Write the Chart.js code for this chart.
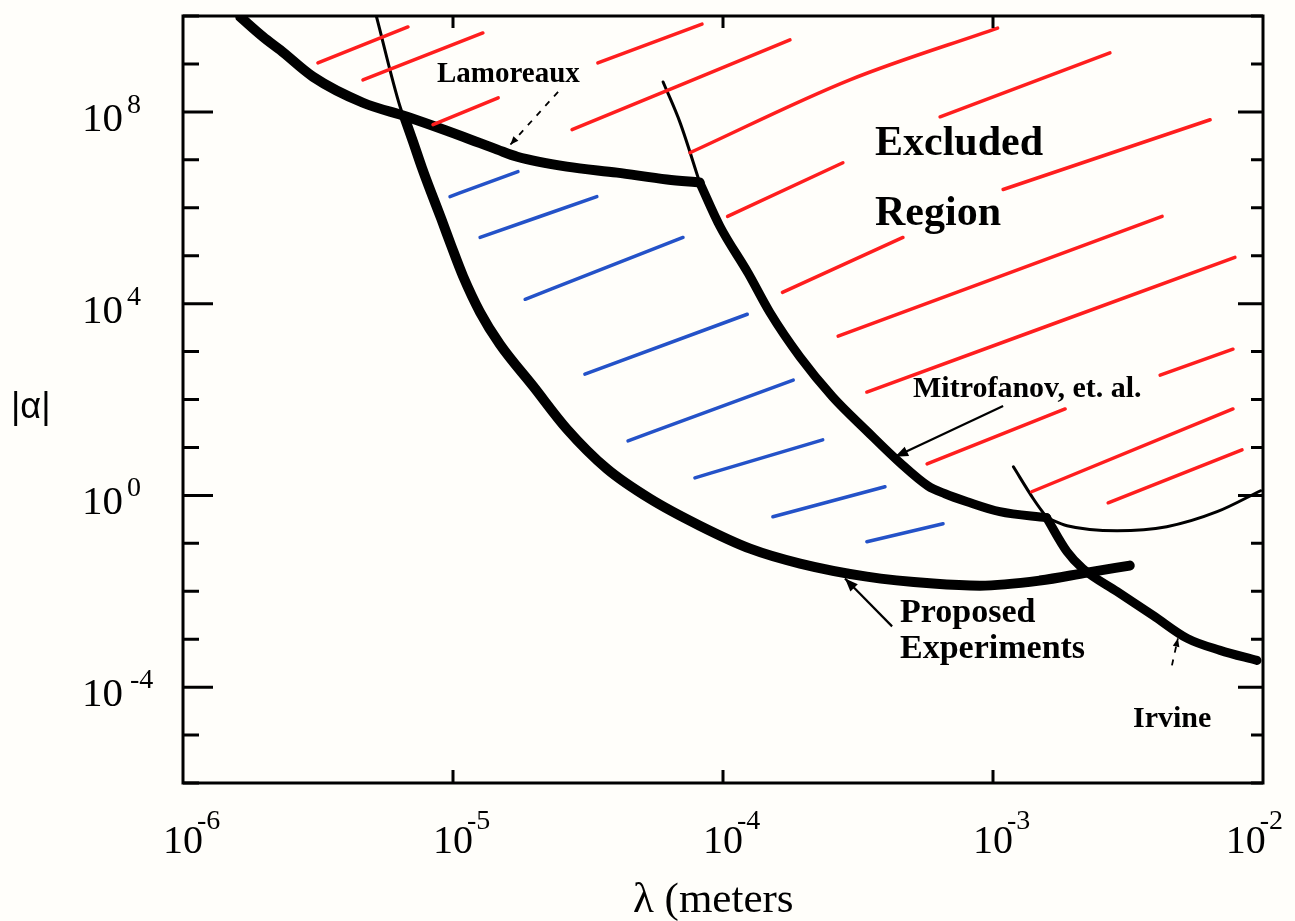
<!DOCTYPE html>
<html><head><meta charset="utf-8">
<script src="https://cdn.jsdelivr.net/npm/chart.js@4.4.1/dist/chart.umd.min.js"></script>
<style>
html,body{margin:0;padding:0;background:#fffefa;}
#wrap{width:1295px;height:921px;position:relative;}
canvas{display:block;}
</style></head><body>
<div id="wrap"><canvas id="c" width="1295" height="921"></canvas></div>
<script>
// ---- axis ticks (decade exponents) ----
const xTickExponents = [-6, -5, -4, -3, -2];
const yTickExponents = [10, 9, 8, 7, 6, 5, 4, 3, 2, 1, 0, -1, -2, -3, -4, -5, -6];
const yLabelExponents = [8, 4, 0, -4];

// ---- curves: lambda (m) and |alpha| ----
const lamoreauxLambda = [1.63e-6, 1.98e-6, 2.29e-6, 3.03e-6, 4.64e-6, 6.76e-6, 1.09e-5, 1.46e-5, 1.73e-5, 2.64e-5, 4.05e-5, 6.2e-5, 8.2e-5];
const lamoreauxAlpha  = [9.5e9, 3.66e9, 1.96e9, 5.4e8, 1.55e8, 7.9e7, 3.03e7, 1.63e7, 1.16e7, 7.2e6, 5.4e6, 3.9e6, 3.35e6];

const mitrofanovTopLambda = [6.0e-5, 6.94e-5, 8.2e-5];
const mitrofanovTopAlpha  = [4.2e8, 5.9e7, 3.35e6];
const mitrofanovLambda = [8.2e-5, 9.75e-5, 1.24e-4, 1.49e-4, 1.93e-4, 2.55e-4, 3.41e-4, 4.53e-4, 5.74e-4, 6.64e-4, 8.02e-4, 1.06e-3, 1.58e-3];
const mitrofanovAlpha  = [3.35e6, 4.07e5, 4.29e4, 6.6e3, 766, 113, 22.1, 4.76, 1.58, 1.08, 0.736, 0.456, 0.342];
const mitrofanovTailLambda = [1.58e-3, 1.88e-3, 2.88e-3, 4.4e-3, 6.76e-3, 9.8e-3];
const mitrofanovTailAlpha  = [0.342, 0.233, 0.183, 0.222, 0.456, 1.25];

const proposedTopLambda = [5.2e-6, 6.37e-6, 6.9e-6];
const proposedTopAlpha  = [1e10, 1.28e8, 3.9e7];
const proposedLambda = [6.6e-6, 7.11e-6, 7.67e-6, 8.3e-6, 9.04e-6, 9.84e-6, 1.09e-5, 1.26e-5, 1.49e-5, 1.98e-5, 2.64e-5, 3.72e-5, 5.37e-5, 8.2e-5, 1.26e-4, 1.93e-4, 3.41e-4, 6.0e-4, 8.95e-4, 1.49e-3, 2.23e-3, 3.21e-3];
const proposedAlpha  = [7.9e7, 2.39e7, 6.87e6, 2.07e6, 5.97e5, 1.64e5, 3.7e4, 6.6e3, 1.43e3, 190, 24.3, 3.57, 0.849, 0.233, 0.0774, 0.0378, 0.0202, 0.0145, 0.0131, 0.0167, 0.0245, 0.0343];

const irvineTopLambda = [1.19e-3, 1.41e-3, 1.58e-3];
const irvineTopAlpha  = [3.94, 0.851, 0.342];
const irvineLambda = [1.58e-3, 1.88e-3, 2.15e-3, 2.88e-3, 3.92e-3, 5.24e-3, 6.94e-3, 9.5e-3];
const irvineAlpha  = [0.342, 0.067, 0.0297, 0.00986, 0.00313, 1.04e-3, 5.85e-4, 3.6e-4];

// ---- hand-drawn hatching of the excluded / proposed regions ----
const redHatchLambda = [
  [3.16e-6, 6.81e-6], [4.64e-6, 1.29e-5], [8.43e-6, 1.47e-5], [2.76e-5, 1.77e-4],
  [3.44e-5, 8.36e-5], [7.55e-5, 2.95e-4, 1.04e-3], [1.04e-4, 2.78e-4], [1.66e-4, 4.64e-4],
  [6.37e-4, 2.71e-3], [1.09e-3, 6.37e-3], [2.67e-4, 4.23e-3], [3.41e-4, 7.87e-3],
  [5.7e-4, 1.85e-3], [4.16e-3, 7.74e-3], [1.39e-3, 7.74e-3], [2.67e-3, 8.36e-3]
];
const redHatchAlpha = [
  [1.05e9, 5.9e9], [4.66e8, 4.43e9], [5.4e7, 1.97e8], [4.25e7, 3.17e9],
  [1.05e9, 6.8e9], [1.41e7, 4.66e8, 5.6e9], [6.6e5, 8.7e6], [1.72e4, 2.4e5],
  [7.9e7, 1.7e9], [2.4e6, 6.86e7], [2.09e3, 6.6e5], [143, 9.2e4],
  [4.55, 63.4], [323, 1.12e3], [1.19, 63.4], [0.70, 8.9]
];
const blueHatchLambda = [
  [9.75e-6, 1.74e-5], [1.26e-5, 3.41e-5], [1.85e-5, 7.11e-5], [3.08e-5, 1.23e-4],
  [4.45e-5, 1.82e-4], [7.87e-5, 2.34e-4], [1.53e-4, 3.98e-4], [3.41e-4, 6.53e-4]
];
const blueHatchAlpha = [
  [1.71e6, 5.68e6], [2.4e5, 1.71e6], [1.23e4, 2.4e5], [339, 6.0e3],
  [13.7, 254], [2.32, 14.4], [0.359, 1.51], [0.108, 0.256]
];

// ---- pointer arrows (tail -> head) ----
const arrowLambda = [[1.09e-3, 4.34e-4], [4.23e-4, 2.83e-4], [2.45e-5, 1.63e-5], [4.6e-3, 4.84e-3]];
const arrowAlpha  = [[73, 6.36], [1.85e-3, 0.0184], [2.62e8, 2.07e7], [2.85e-4, 1.04e-3]];
const arrowDashed = [false, false, true, true];

// ---- labels ----
const annotationTexts = ['Lamoreaux', 'Excluded', 'Region', 'Mitrofanov, et. al.', 'Proposed', 'Experiments', 'Irvine'];
const xAxisTitle = 'λ (meters';
const yAxisTitle = '|α|';

const pts = (ls, as) => ls.map((l, i) => ({x: l, y: as[i]}));
const SERIF = '"Liberation Serif", "DejaVu Serif", serif';

function curve(ls, as, w, color) {
  return {data: pts(ls, as), borderColor: color || '#000', borderWidth: w, showLine: true,
    pointRadius: 0, cubicInterpolationMode: 'monotone', borderCapStyle: 'round', borderJoinStyle: 'round', fill: false};
}

const datasets = [];
redHatchLambda.forEach((ls, i) => datasets.push(Object.assign(curve(ls, redHatchAlpha[i], 3.5, '#ff1e1e'), {label: 'excluded hatch'})));
blueHatchLambda.forEach((ls, i) => datasets.push(Object.assign(curve(ls, blueHatchAlpha[i], 3.5, '#2452c8'), {label: 'proposed hatch'})));
datasets.push(Object.assign(curve(lamoreauxLambda, lamoreauxAlpha, 10), {label: 'Lamoreaux'}));
datasets.push(Object.assign(curve(mitrofanovTopLambda, mitrofanovTopAlpha, 3), {label: 'Mitrofanov (ext.)'}));
datasets.push(Object.assign(curve(mitrofanovLambda, mitrofanovAlpha, 9), {label: 'Mitrofanov, et. al.'}));
datasets.push(Object.assign(curve(mitrofanovTailLambda, mitrofanovTailAlpha, 3), {label: 'Mitrofanov (ext.)'}));
datasets.push(Object.assign(curve(proposedTopLambda, proposedTopAlpha, 3), {label: 'Proposed (ext.)'}));
datasets.push(Object.assign(curve(proposedLambda, proposedAlpha, 10), {label: 'Proposed Experiments'}));
datasets.push(Object.assign(curve(irvineTopLambda, irvineTopAlpha, 3), {label: 'Irvine (ext.)'}));
datasets.push(Object.assign(curve(irvineLambda, irvineAlpha, 9), {label: 'Irvine'}));

function arrowHead(ctx, x1, y1, x2, y2, size) {
  const ang = Math.atan2(y2 - y1, x2 - x1);
  ctx.beginPath();
  ctx.moveTo(x2, y2);
  ctx.lineTo(x2 - size * Math.cos(ang - 0.38), y2 - size * Math.sin(ang - 0.38));
  ctx.lineTo(x2 - size * Math.cos(ang + 0.38), y2 - size * Math.sin(ang + 0.38));
  ctx.closePath();
  ctx.fill();
}

const decor = {
  id: 'decor',
  beforeDraw(chart) {
    const ctx = chart.ctx;
    ctx.save(); ctx.fillStyle = '#fffefa'; ctx.fillRect(0, 0, chart.width, chart.height); ctx.restore();
  },
  afterDatasetsDraw(chart) {
    const {ctx, chartArea: a, scales: {x, y}} = chart;
    ctx.save();
    ctx.strokeStyle = '#000'; ctx.fillStyle = '#000';
    // frame
    ctx.lineWidth = 3;
    ctx.strokeRect(a.left, a.top, a.right - a.left, a.bottom - a.top);
    // y ticks (left and right, inward)
    yTickExponents.forEach(e => {
      const py = y.getPixelForValue(Math.pow(10, e));
      const major = yLabelExponents.includes(e);
      ctx.beginPath();
      ctx.moveTo(a.left, py); ctx.lineTo(a.left + (major ? 30 : 16), py);
      ctx.moveTo(a.right, py); ctx.lineTo(a.right - (major ? 25 : 12), py);
      ctx.stroke();
    });
    // x ticks (top and bottom, inward)
    xTickExponents.forEach(e => {
      const px = x.getPixelForValue(Math.pow(10, e));
      if (px <= a.left + 2 || px >= a.right - 2) return;
      ctx.beginPath();
      ctx.moveTo(px, a.bottom); ctx.lineTo(px, a.bottom - 13);
      ctx.moveTo(px, a.top); ctx.lineTo(px, a.top + 12);
      ctx.stroke();
    });
    // y tick labels
    ctx.textAlign = 'left'; ctx.textBaseline = 'alphabetic';
    yLabelExponents.forEach(e => {
      const py = y.getPixelForValue(Math.pow(10, e));
      ctx.font = '41px ' + SERIF;
      ctx.fillText('10', 82, py + 19);
      ctx.font = '28px ' + SERIF;
      ctx.fillText(e < 0 ? '-' + Math.abs(e) : String(e), e < 0 ? 130 : 127, py + 1);
    });
    // x tick labels
    xTickExponents.forEach(e => {
      const px = x.getPixelForValue(Math.pow(10, e));
      const sup = '-' + Math.abs(e);
      ctx.font = '28px ' + SERIF;
      const sw = ctx.measureText(sup).width;
      let shift = 0;
      const right = px + 14 + sw;
      if (right > chart.width - 12) shift = chart.width - 12 - right;
      ctx.font = '40px ' + SERIF;
      ctx.textAlign = 'center';
      ctx.fillText('10', px + shift, 853);
      ctx.font = '28px ' + SERIF;
      ctx.textAlign = 'left';
      ctx.fillText(sup, px + 14 + shift, 829);
    });
    // axis titles
    ctx.textAlign = 'left';
    ctx.font = '43px ' + SERIF;
    ctx.fillText(xAxisTitle, 633, 912);
    ctx.font = '36px "Liberation Sans", Arial, sans-serif';
    ctx.textBaseline = 'middle';
    ctx.fillText(yAxisTitle, 11, 408);
    ctx.textBaseline = 'alphabetic';
    // annotations
    ctx.font = 'bold 29px ' + SERIF; ctx.fillText(annotationTexts[0], 437, 82);
    ctx.font = 'bold 42px ' + SERIF; ctx.fillText(annotationTexts[1], 875, 155);
    ctx.fillText(annotationTexts[2], 875, 225);
    ctx.font = 'bold 30px ' + SERIF; ctx.fillText(annotationTexts[3], 913, 397);
    ctx.font = 'bold 34px ' + SERIF; ctx.fillText(annotationTexts[4], 900, 622);
    ctx.fillText(annotationTexts[5], 900, 658);
    ctx.font = 'bold 30px ' + SERIF; ctx.fillText(annotationTexts[6], 1133, 727);
    // arrows
    arrowLambda.forEach((ls, i) => {
      const x1 = x.getPixelForValue(ls[0]), y1 = y.getPixelForValue(arrowAlpha[i][0]);
      const x2 = x.getPixelForValue(ls[1]), y2 = y.getPixelForValue(arrowAlpha[i][1]);
      ctx.lineWidth = arrowDashed[i] ? 1.8 : 2.2;
      ctx.setLineDash(arrowDashed[i] ? [6, 7] : []);
      ctx.beginPath(); ctx.moveTo(x1, y1); ctx.lineTo(x2, y2); ctx.stroke();
      ctx.setLineDash([]);
      arrowHead(ctx, x1, y1, x2, y2, arrowDashed[i] ? 9 : 14);
    });
    ctx.restore();
  }
};

new Chart(document.getElementById('c'), {
  type: 'scatter',
  data: {datasets},
  options: {
    responsive: false, animation: false, devicePixelRatio: 1,
    layout: {padding: {left: 183, top: 16, right: 32, bottom: 138}},
    plugins: {legend: {display: false}, tooltip: {enabled: false}},
    scales: {
      x: {type: 'logarithmic', min: 1e-6, max: 1e-2, display: false},
      y: {type: 'logarithmic', min: 1e-6, max: 1e10, display: false}
    }
  },
  plugins: [decor]
});
</script>
</body></html>
